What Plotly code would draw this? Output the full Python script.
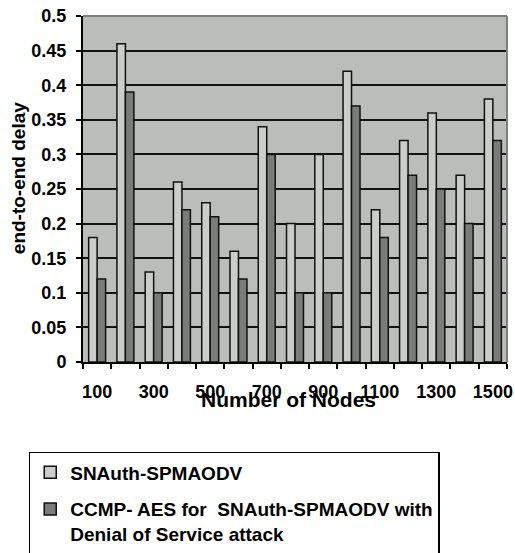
import plotly.graph_objects as go

categories = ["100", "200", "300", "400", "500", "600", "700", "800",
              "900", "1000", "1100", "1200", "1300", "1400", "1500"]
tick_labels = ["100", "", "300", "", "500", "", "700", "",
               "900", "", "1100", "", "1300", "", "1500"]
snauth = [0.18, 0.46, 0.13, 0.26, 0.23, 0.16, 0.34, 0.20,
          0.30, 0.42, 0.22, 0.32, 0.36, 0.27, 0.38]
ccmp_dos = [0.12, 0.39, 0.10, 0.22, 0.21, 0.12, 0.30, 0.10,
            0.10, 0.37, 0.18, 0.27, 0.25, 0.20, 0.32]
series_names = ["SNAuth-SPMAODV",
                "CCMP- AES for  SNAuth-SPMAODV with<br>Denial of Service attack"]

FONT = "Liberation Sans, Arial, sans-serif"

fig = go.Figure()
fig.add_trace(go.Bar(x=categories, y=snauth, name=series_names[0],
                     legendgroup="a",
                     marker=dict(color="#cbcdcb", line=dict(color="#111111", width=1.5))))
fig.add_trace(go.Bar(x=categories, y=ccmp_dos, name=series_names[1],
                     legendgroup="b",
                     marker=dict(color="#7a7c7a", line=dict(color="#111111", width=1.5))))

fig.update_layout(
    width=515, height=553,
    margin=dict(l=83, r=8, t=16, b=191, autoexpand=False),
    paper_bgcolor="white",
    plot_bgcolor="#bbbdbb",
    barmode="group",
    bargap=0.4,
    bargroupgap=0.0,
    font=dict(family=FONT, size=18, color="black", weight="bold"),
    showlegend=True,
    legend=dict(
        x=-0.128, y=-0.26, xanchor="left", yanchor="top",
        bordercolor="black", borderwidth=1.5, bgcolor="white",
        font=dict(family=FONT, size=19, color="black", weight="bold"),
        traceorder="grouped", tracegroupgap=9, valign="top",
    ),
    xaxis=dict(
        type="category", automargin=False,
        tickmode="array", tickvals=categories, ticktext=tick_labels,
        tickson="boundaries", ticks="outside", ticklen=5, tickwidth=2,
        tickcolor="black", tickangle=0, ticklabelstandoff=12,
        showline=True, linecolor="black", linewidth=2,
        showgrid=False, mirror=False,
        tickfont=dict(family=FONT, size=18, color="black", weight="bold"),
    ),
    yaxis=dict(
        range=[0, 0.5], dtick=0.05, tickformat="~g", automargin=False,
        ticks="outside", ticklen=5, tickwidth=2, tickcolor="black",
        ticklabelstandoff=6,
        showline=True, linecolor="black", linewidth=2,
        showgrid=True, gridcolor="#111111", gridwidth=2,
        zeroline=False,
        tickfont=dict(family=FONT, size=18, color="black", weight="bold"),
    ),
)

# gray frame at top and right of the plot area
fig.add_shape(type="line", xref="paper", yref="paper", x0=0, x1=1, y0=1, y1=1,
              line=dict(color="#7f7f7f", width=2))
fig.add_shape(type="line", xref="paper", yref="paper", x0=1, x1=1, y0=0, y1=1,
              line=dict(color="#7f7f7f", width=2))

fig.add_annotation(text="Number of Nodes", xref="paper", yref="paper",
                   x=0.485, y=-0.108, xanchor="center", yanchor="middle",
                   showarrow=False,
                   font=dict(family=FONT, size=21, color="black", weight="bold"))
fig.add_annotation(text="end-to-end delay", xref="paper", yref="paper",
                   x=-0.152, y=0.53, xanchor="center", yanchor="middle",
                   textangle=-90, showarrow=False,
                   font=dict(family=FONT, size=19, color="black", weight="bold"))

fig.write_html("out.html",
               config={"displayModeBar": False},
               post_script="document.body.style.margin='0';document.body.style.padding='0';")
